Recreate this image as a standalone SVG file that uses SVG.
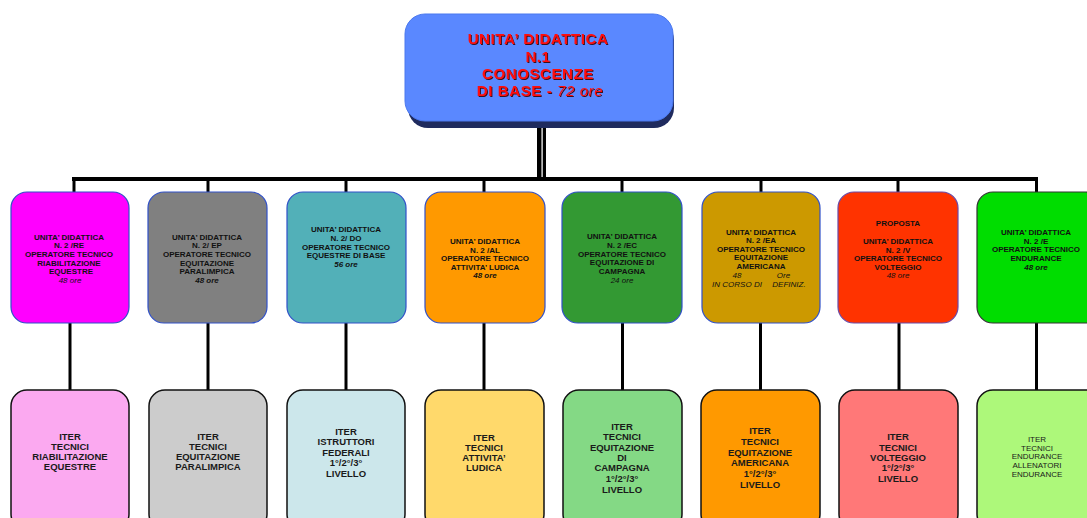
<svg xmlns="http://www.w3.org/2000/svg" width="1087" height="518" viewBox="0 0 1087 518">
<defs>
<filter id="ts" x="-10%" y="-30%" width="120%" height="160%">
<feDropShadow dx="1" dy="1" stdDeviation="0.3" flood-color="#3a0000" flood-opacity="0.9"/>
</filter>
<style>
text{font-family:"Liberation Sans",Arial,sans-serif;text-anchor:middle;}
.top{font-size:15px;font-weight:bold;fill:#ff1010;letter-spacing:0.6px;}
.m{font-size:8px;font-weight:bold;fill:#111;}
.mi{font-size:8px;font-style:italic;fill:#111;}
.mib{font-size:8px;font-style:italic;font-weight:bold;fill:#111;}
.b{font-size:9.5px;font-weight:bold;fill:#1a1a1a;}
.bs{font-size:8px;fill:#1a1a1a;}
.mid{stroke:#3050c8;stroke-width:1.2;}
.bot{stroke:#111;stroke-width:1.5;}
.c{stroke:#000;stroke-width:3;fill:none;}
</style>
</defs>
<rect width="1087" height="518" fill="#fff"/>

<g id="connectors">
<line x1="539" y1="126" x2="539" y2="178" stroke="#000" stroke-width="4"/>
<line x1="544.5" y1="126" x2="544.5" y2="178" stroke="#000" stroke-width="3"/>
<line x1="541.8" y1="126" x2="541.8" y2="178" stroke="#888" stroke-width="1.6"/>
<line x1="72" y1="179" x2="1038" y2="179" stroke="#000" stroke-width="4"/>
<line class="c" x1="74" y1="179" x2="74" y2="192"/>
<line class="c" x1="208" y1="179" x2="208" y2="192"/>
<line class="c" x1="346" y1="179" x2="346" y2="192"/>
<line class="c" x1="484" y1="179" x2="484" y2="192"/>
<line class="c" x1="622" y1="179" x2="622" y2="192"/>
<line class="c" x1="761" y1="179" x2="761" y2="192"/>
<line class="c" x1="898" y1="179" x2="898" y2="192"/>
<line class="c" x1="1036.5" y1="179" x2="1036.5" y2="192"/>
<line class="c" x1="70" y1="323" x2="70" y2="390"/>
<line class="c" x1="208" y1="323" x2="208" y2="390"/>
<line class="c" x1="346" y1="323" x2="346" y2="390"/>
<line class="c" x1="484" y1="323" x2="484" y2="390"/>
<line class="c" x1="622.5" y1="323" x2="622.5" y2="390"/>
<line class="c" x1="760.5" y1="323" x2="760.5" y2="390"/>
<line class="c" x1="899" y1="323" x2="899" y2="390"/>
<line class="c" x1="1036.5" y1="323" x2="1036.5" y2="390"/>
</g>

<g id="root">
<rect x="408" y="20" width="266" height="108" rx="20" fill="#1f2b5e"/>
<rect x="405" y="14" width="268" height="107" rx="20" fill="#5a88ff" stroke="#4a78ee" stroke-width="1"/>
<g filter="url(#ts)">
<text class="top" x="538" y="44">UNITA’ DIDATTICA</text>
<text class="top" x="538" y="61.5">N.1</text>
<text class="top" x="538" y="79">CONOSCENZE</text>
<text class="top" x="540" y="96">DI BASE - <tspan font-style="italic" font-weight="normal">72 ore</tspan></text>
</g>
</g>

<g id="ud-re">
<rect class="mid" x="11" y="192" width="118" height="131" rx="16" fill="#ff00ff"/>
<text class="m" x="69" y="239.5">UNITA’ DIDATTICA</text>
<text class="m" x="69" y="248">N. 2 /RE</text>
<text class="m" x="69" y="257">OPERATORE TECNICO</text>
<text class="m" x="69" y="265.5">RIABILITAZIONE</text>
<text class="m" x="71" y="274">EQUESTRE</text>
<text class="mi" x="70" y="282.5">48 ore</text>
</g>

<g id="ud-ep">
<rect class="mid" x="148" y="192" width="119" height="131" rx="16" fill="#808080"/>
<text class="m" x="207" y="239.5">UNITA’ DIDATTICA</text>
<text class="m" x="207" y="248">N. 2/ EP</text>
<text class="m" x="207" y="257">OPERATORE TECNICO</text>
<text class="m" x="207" y="265.5">EQUITAZIONE</text>
<text class="m" x="207" y="274">PARALIMPICA</text>
<text class="mib" x="207" y="282.5">48 ore</text>
</g>

<g id="ud-do">
<rect class="mid" x="287" y="192" width="119" height="131" rx="16" fill="#52b0b8"/>
<text class="m" x="346" y="232">UNITA’ DIDATTICA</text>
<text class="m" x="346" y="241">N. 2/ DO</text>
<text class="m" x="346" y="249.5">OPERATORE TECNICO</text>
<text class="m" x="346" y="258">EQUESTRE DI BASE</text>
<text class="mib" x="346" y="267">56 ore</text>
</g>

<g id="ud-al">
<rect class="mid" x="425" y="192" width="120" height="131" rx="16" fill="#ff9900"/>
<text class="m" x="485" y="244">UNITA’ DIDATTICA</text>
<text class="m" x="485" y="252.5">N. 2 /AL</text>
<text class="m" x="485" y="261">OPERATORE TECNICO</text>
<text class="m" x="485" y="269.5">ATTIVITA’ LUDICA</text>
<text class="mib" x="485" y="278">48 ore</text>
</g>

<g id="ud-ec">
<rect class="mid" x="562" y="192" width="120" height="131" rx="16" fill="#339933"/>
<text class="m" x="622" y="239">UNITA’ DIDATTICA</text>
<text class="m" x="622" y="247.5">N. 2 /EC</text>
<text class="m" x="622" y="256.5">OPERATORE TECNICO</text>
<text class="m" x="622" y="265">EQUITAZIONE DI</text>
<text class="m" x="622" y="273.5">CAMPAGNA</text>
<text class="mi" x="622" y="282.5">24 ore</text>
</g>

<g id="ud-ea">
<rect class="mid" x="702" y="192" width="118" height="131" rx="16" fill="#cc9900"/>
<text class="m" x="761" y="234.5">UNITA’ DIDATTICA</text>
<text class="m" x="761" y="243">N. 2 /EA</text>
<text class="m" x="761" y="251.5">OPERATORE TECNICO</text>
<text class="m" x="761" y="260">EQUITAZIONE</text>
<text class="m" x="761" y="269">AMERICANA</text>
<text class="mi" x="737" y="277.5">48</text>
<text class="mi" x="783.5" y="277.5">Ore</text>
<text class="mi" x="737" y="286.5" font-size="7.5">IN CORSO DI</text>
<text class="mi" x="789" y="286.5" font-size="7.5">DEFINIZ.</text>
</g>

<g id="ud-v">
<rect x="838" y="192" width="120" height="131" rx="16" fill="#ff3300" stroke="#6a4aa8" stroke-width="1.2"/>
<text class="m" x="898" y="226">PROPOSTA</text>
<text class="m" x="898" y="244">UNITA’ DIDATTICA</text>
<text class="m" x="898" y="252.5">N. 2 /V</text>
<text class="m" x="898" y="261">OPERATORE TECNICO</text>
<text class="m" x="898" y="269.5">VOLTEGGIO</text>
<text class="mi" x="898" y="278">48 ore</text>
</g>

<g id="ud-e">
<rect x="977" y="192" width="125" height="131" rx="16" fill="#00dd00" stroke="#333" stroke-width="1.2"/>
<text class="m" x="1036" y="235">UNITA’ DIDATTICA</text>
<text class="m" x="1036" y="243.5">N. 2 /E</text>
<text class="m" x="1036" y="252">OPERATORE TECNICO</text>
<text class="m" x="1036" y="260.5">ENDURANCE</text>
<text class="mib" x="1036" y="269.5">48 ore</text>
</g>

<g id="iter-re">
<rect class="bot" x="11" y="390" width="118" height="140" rx="16" fill="#fba9f0"/>
<text class="b" x="70" y="439.5">ITER</text>
<text class="b" x="70" y="449.8">TECNICI</text>
<text class="b" x="70" y="460">RIABILITAZIONE</text>
<text class="b" x="70" y="470.3">EQUESTRE</text>
</g>

<g id="iter-ep">
<rect class="bot" x="149" y="390" width="118" height="140" rx="16" fill="#cccccc"/>
<text class="b" x="208" y="439.5">ITER</text>
<text class="b" x="208" y="449.8">TECNICI</text>
<text class="b" x="208" y="460">EQUITAZIONE</text>
<text class="b" x="208" y="470.3">PARALIMPICA</text>
</g>

<g id="iter-do">
<rect class="bot" x="287" y="390" width="118" height="140" rx="16" fill="#cce7eb"/>
<text class="b" x="346" y="434.5">ITER</text>
<text class="b" x="346" y="445">ISTRUTTORI</text>
<text class="b" x="346" y="455.5">FEDERALI</text>
<text class="b" x="346" y="466">1°/2°/3°</text>
<text class="b" x="346" y="477">LIVELLO</text>
</g>

<g id="iter-al">
<rect class="bot" x="425" y="390" width="119" height="140" rx="16" fill="#ffd96b"/>
<text class="b" x="484" y="440.5">ITER</text>
<text class="b" x="484" y="451">TECNICI</text>
<text class="b" x="484" y="461">ATTIVITA’</text>
<text class="b" x="484" y="471">LUDICA</text>
</g>

<g id="iter-ec">
<rect class="bot" x="563" y="390" width="119" height="140" rx="16" fill="#84d985"/>
<text class="b" x="622" y="429.5">ITER</text>
<text class="b" x="622" y="440">TECNICI</text>
<text class="b" x="622" y="450.5">EQUITAZIONE</text>
<text class="b" x="622" y="460.5">DI</text>
<text class="b" x="622" y="471">CAMPAGNA</text>
<text class="b" x="622" y="482">1°/2°/3°</text>
<text class="b" x="622" y="492.5">LIVELLO</text>
</g>

<g id="iter-ea">
<rect class="bot" x="701" y="390" width="119" height="140" rx="16" fill="#ff9900"/>
<text class="b" x="760" y="434">ITER</text>
<text class="b" x="760" y="444.5">TECNICI</text>
<text class="b" x="760" y="455.5">EQUITAZIONE</text>
<text class="b" x="760" y="466">AMERICANA</text>
<text class="b" x="760" y="477">1°/2°/3°</text>
<text class="b" x="760" y="487.5">LIVELLO</text>
</g>

<g id="iter-v">
<rect class="bot" x="839" y="390" width="119" height="140" rx="16" fill="#ff7878"/>
<text class="b" x="898" y="440">ITER</text>
<text class="b" x="898" y="451">TECNICI</text>
<text class="b" x="898" y="460.5">VOLTEGGIO</text>
<text class="b" x="898" y="471">1°/2°/3°</text>
<text class="b" x="898" y="481.5">LIVELLO</text>
</g>

<g id="iter-e">
<rect class="bot" x="977" y="390" width="125" height="140" rx="16" fill="#adf87a"/>
<text class="bs" x="1037" y="441.5">ITER</text>
<text class="bs" x="1037" y="450.5">TECNICI</text>
<text class="bs" x="1037" y="459">ENDURANCE</text>
<text class="bs" x="1037" y="468">ALLENATORI</text>
<text class="bs" x="1037" y="476.5">ENDURANCE</text>
</g>
</svg>
